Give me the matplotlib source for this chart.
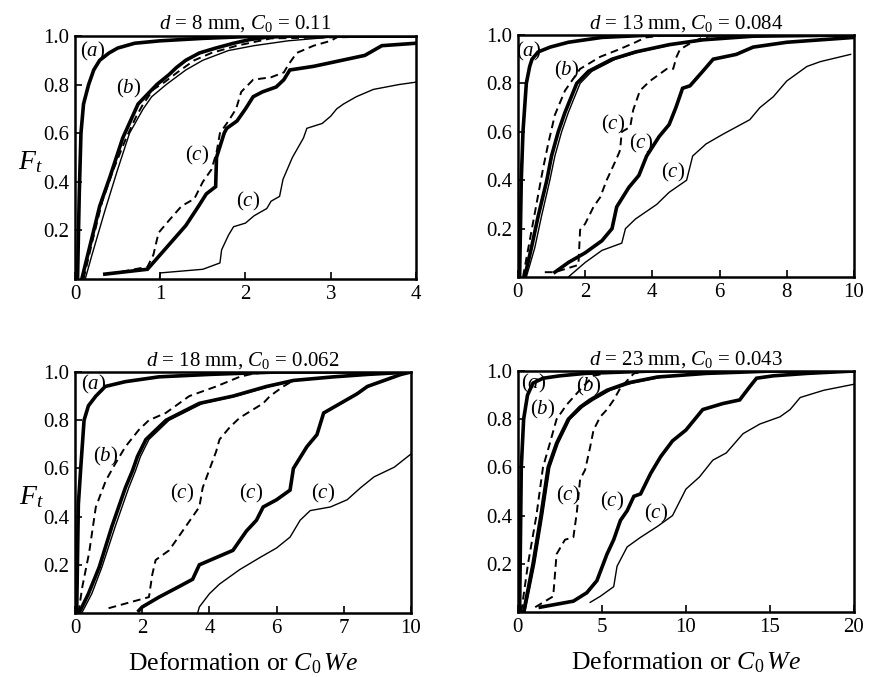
import matplotlib
matplotlib.use("Agg")
import matplotlib.pyplot as plt

plt.rcParams['font.family'] = ['Liberation Serif', 'DejaVu Serif']
plt.rcParams['mathtext.fontset'] = 'custom'
plt.rcParams['mathtext.rm'] = 'Liberation Serif'
plt.rcParams['mathtext.it'] = 'Liberation Serif:italic'

# ---------------- Panel 1: d = 8 mm ----------------
p1_a_x = [0.03, 0.05, 0.07, 0.1, 0.16, 0.22, 0.29, 0.4, 0.5, 0.7, 1.0, 1.5, 2.2, 4.0]
p1_a_y = [0, 0.35, 0.6, 0.72, 0.8, 0.86, 0.9, 0.93, 0.95, 0.97, 0.98, 0.99, 1.0, 1.0]
p1_b_thick_x = [0.08, 0.15, 0.29, 0.41, 0.56, 0.65, 0.74, 0.85, 0.96, 1.1, 1.19, 1.3, 1.46, 1.65, 1.86, 2.05, 2.25, 2.6, 4.0]
p1_b_thick_y = [0, 0.1, 0.3, 0.42, 0.58, 0.65, 0.72, 0.76, 0.8, 0.84, 0.87, 0.9, 0.93, 0.95, 0.97, 0.985, 0.995, 1.0, 1.0]
p1_b_thin_x = [0.12, 0.2, 0.35, 0.5, 0.64, 0.8, 0.9, 1.07, 1.3, 1.5, 1.8, 2.1, 2.5, 3.0, 4.0]
p1_b_thin_y = [0, 0.1, 0.28, 0.45, 0.6, 0.7, 0.75, 0.8, 0.86, 0.9, 0.94, 0.96, 0.98, 0.995, 1.0]
p1_b_dash_x = [0.1, 0.2, 0.32, 0.45, 0.6, 0.72, 0.8, 0.92, 1.05, 1.2, 1.4, 1.6, 1.9, 2.3, 4.0]
p1_b_dash_y = [0, 0.15, 0.32, 0.45, 0.58, 0.67, 0.72, 0.78, 0.81, 0.85, 0.9, 0.93, 0.96, 0.99, 1.0]
p1_c_dash_x = [0.4, 0.85, 0.92, 0.98, 1.1, 1.25, 1.4, 1.5, 1.6, 1.66, 1.7, 1.8, 1.89, 1.95, 2.09, 2.3, 2.45, 2.5, 2.6, 2.8, 3.0, 3.1]
p1_c_dash_y = [0.02, 0.05, 0.1, 0.19, 0.24, 0.3, 0.33, 0.4, 0.45, 0.52, 0.6, 0.65, 0.7, 0.77, 0.82, 0.83, 0.85, 0.88, 0.93, 0.96, 0.98, 1.0]
p1_c_thick_x = [0.35, 0.85, 0.95, 1.0, 1.1, 1.3, 1.45, 1.54, 1.65, 1.66, 1.75, 1.78, 1.9, 2.0, 2.09, 2.2, 2.36, 2.45, 2.52, 2.8, 3.0, 3.4, 3.5, 3.6, 3.8, 4.0]
p1_c_thick_y = [0.02, 0.04, 0.08, 0.1, 0.14, 0.22, 0.3, 0.35, 0.38, 0.5, 0.6, 0.62, 0.65, 0.7, 0.75, 0.77, 0.79, 0.82, 0.86, 0.875, 0.89, 0.92, 0.94, 0.96, 0.965, 0.97]
p1_c_thin_x = [0.99, 1.0, 1.5, 1.7, 1.72, 1.8, 1.86, 2.0, 2.1, 2.25, 2.3, 2.4, 2.44, 2.55, 2.68, 2.72, 2.9, 3.0, 3.07, 3.15, 3.3, 3.5, 3.8, 4.0]
p1_c_thin_y = [0.0, 0.025, 0.04, 0.066, 0.12, 0.18, 0.215, 0.23, 0.26, 0.29, 0.32, 0.34, 0.41, 0.5, 0.58, 0.62, 0.64, 0.67, 0.7, 0.72, 0.75, 0.78, 0.8, 0.81]

# ---------------- Panel 2: d = 13 mm ----------------
p2_a_x = [0.05, 0.1, 0.15, 0.25, 0.35, 0.42, 0.6, 0.96, 1.5, 2.5, 4.0, 10.0]
p2_a_y = [0, 0.4, 0.6, 0.8, 0.87, 0.9, 0.93, 0.95, 0.97, 0.99, 1.0, 1.0]
p2_b_thick_x = [0.2, 0.4, 0.6, 0.86, 1.0, 1.2, 1.4, 1.75, 2.1, 2.8, 3.5, 4.5, 5.5, 7.0, 10.0]
p2_b_thick_y = [0, 0.12, 0.25, 0.4, 0.5, 0.6, 0.68, 0.8, 0.85, 0.9, 0.93, 0.96, 0.98, 0.995, 1.0]
p2_b_thin_x = [0.25, 0.5, 0.7, 0.95, 1.1, 1.3, 1.5, 1.85, 2.2, 2.9, 3.6, 4.6, 5.6, 7.0, 10.0]
p2_b_thin_y = [0, 0.12, 0.25, 0.4, 0.5, 0.6, 0.68, 0.8, 0.85, 0.9, 0.93, 0.96, 0.98, 0.995, 1.0]
p2_b_dash_x = [0.15, 0.35, 0.55, 0.75, 0.9, 1.1, 1.4, 1.85, 2.45, 3.0, 3.5, 3.8, 4.5, 10.0]
p2_b_dash_y = [0, 0.15, 0.3, 0.45, 0.55, 0.67, 0.77, 0.86, 0.91, 0.94, 0.97, 0.99, 1.0, 1.0]
p2_c_dash_x = [0.8, 1.1, 1.8, 1.85, 2.0, 2.25, 2.45, 2.64, 2.84, 3.0, 3.04, 3.09, 3.34, 3.43, 3.63, 3.93, 4.43, 4.62, 4.72, 4.82, 5.12, 5.5, 6.0]
p2_c_dash_y = [0.02, 0.02, 0.05, 0.195, 0.22, 0.29, 0.33, 0.40, 0.46, 0.51, 0.525, 0.6, 0.62, 0.69, 0.77, 0.81, 0.86, 0.86, 0.91, 0.94, 0.965, 0.99, 1.0]
p2_c_thick_x = [1.1, 1.5, 2.0, 2.5, 2.8, 2.94, 3.3, 3.6, 3.83, 4.2, 4.5, 4.7, 4.9, 5.12, 5.5, 5.81, 6.5, 7.0, 8.0, 10.0]
p2_c_thick_y = [0.02, 0.06, 0.1, 0.15, 0.2, 0.29, 0.37, 0.42, 0.5, 0.58, 0.63, 0.7, 0.78, 0.79, 0.85, 0.9, 0.92, 0.95, 0.97, 0.99]
p2_c_thin_x = [1.5, 2.0, 2.5, 3.09, 3.2, 3.5, 4.13, 4.5, 5.02, 5.2, 5.6, 6.1, 6.9, 7.2, 7.6, 8.0, 8.6, 9.0, 9.9]
p2_c_thin_y = [0.0, 0.06, 0.11, 0.14, 0.2, 0.24, 0.30, 0.35, 0.40, 0.5, 0.55, 0.59, 0.65, 0.70, 0.745, 0.81, 0.87, 0.89, 0.92]

# ---------------- Panel 3: d = 18 mm ----------------
p3_a_x = [0.05, 0.1, 0.17, 0.27, 0.4, 0.62, 0.9, 1.5, 2.5, 4.0, 6.0, 10.0]
p3_a_y = [0, 0.45, 0.6, 0.8, 0.86, 0.9, 0.94, 0.96, 0.98, 0.99, 1.0, 1.0]
p3_b_thick_x = [0.12, 0.4, 0.72, 1.1, 1.5, 1.71, 1.86, 2.11, 2.71, 3.7, 4.7, 5.7, 6.5, 7.7, 8.7, 10.0]
p3_b_thick_y = [0, 0.08, 0.19, 0.36, 0.52, 0.59, 0.65, 0.72, 0.80, 0.87, 0.90, 0.94, 0.965, 0.98, 0.99, 1.0]
p3_b_thin_x = [0.2, 0.5, 0.8, 1.2, 1.6, 1.8, 1.95, 2.2, 2.8, 3.8, 4.8, 5.8, 6.6, 7.8, 8.8, 10.0]
p3_b_thin_y = [0, 0.08, 0.19, 0.36, 0.52, 0.59, 0.65, 0.72, 0.80, 0.87, 0.90, 0.94, 0.965, 0.98, 0.99, 1.0]
p3_b_dash_x = [0.1, 0.22, 0.42, 0.62, 0.92, 1.2, 1.5, 1.9, 2.2, 2.7, 3.4, 4.2, 4.9, 5.2, 5.7, 10.0]
p3_b_dash_y = [0, 0.11, 0.25, 0.44, 0.55, 0.62, 0.69, 0.76, 0.80, 0.83, 0.90, 0.94, 0.98, 0.99, 1.0, 1.0]
p3_c_dash_x = [1.0, 2.2, 2.3, 2.4, 2.8, 3.0, 3.3, 3.7, 3.8, 4.2, 4.3, 4.6, 4.9, 5.6, 5.8, 6.2, 6.5]
p3_c_dash_y = [0.02, 0.066, 0.16, 0.22, 0.26, 0.30, 0.36, 0.44, 0.52, 0.67, 0.72, 0.77, 0.81, 0.87, 0.90, 0.94, 0.965]
p3_c_thick_x = [1.9, 2.0, 2.5, 3.1, 3.5, 3.7, 4.2, 4.7, 5.1, 5.4, 5.6, 6.0, 6.4, 6.5, 6.9, 7.2, 7.4, 7.9, 8.4, 8.7, 9.2, 9.7, 10.0]
p3_c_thick_y = [0.01, 0.025, 0.066, 0.11, 0.14, 0.2, 0.23, 0.26, 0.34, 0.385, 0.44, 0.47, 0.51, 0.6, 0.69, 0.74, 0.83, 0.87, 0.91, 0.94, 0.965, 0.99, 1.0]
p3_c_thin_x = [3.65, 3.7, 4.0, 4.3, 4.9, 5.5, 6.0, 6.4, 6.7, 7.0, 7.6, 8.1, 8.5, 8.9, 9.5, 10.0]
p3_c_thin_y = [0.0, 0.025, 0.08, 0.12, 0.18, 0.23, 0.27, 0.315, 0.385, 0.425, 0.44, 0.47, 0.52, 0.565, 0.605, 0.66]

# ---------------- Panel 4: d = 23 mm ----------------
p4_a_x = [0.1, 0.2, 0.34, 0.57, 0.9, 1.5, 2.5, 4.0, 8.0, 20.0]
p4_a_y = [0, 0.6, 0.8, 0.9, 0.95, 0.97, 0.98, 0.99, 1.0, 1.0]
p4_b_thick_x = [0.34, 0.9, 1.37, 1.8, 2.3, 3.0, 3.7, 4.3, 5.3, 6.5, 8.3, 11.2, 15.2, 20.0]
p4_b_thick_y = [0, 0.2, 0.4, 0.6, 0.7, 0.8, 0.85, 0.88, 0.92, 0.95, 0.975, 0.99, 1.0, 1.0]
p4_b_thin_x = [0.42, 1.0, 1.47, 1.9, 2.4, 3.1, 3.85, 4.5, 5.5, 6.8, 8.6, 11.5, 15.5, 20.0]
p4_b_thin_y = [0, 0.2, 0.4, 0.6, 0.7, 0.8, 0.85, 0.88, 0.92, 0.95, 0.975, 0.99, 1.0, 1.0]
p4_b_dash_x = [0.2, 0.6, 1.1, 1.49, 1.9, 2.3, 2.9, 3.8, 4.5, 5.5, 8.0]
p4_b_dash_y = [0, 0.2, 0.4, 0.6, 0.7, 0.8, 0.86, 0.93, 0.98, 0.995, 1.0]
p4_c_dash_x = [1.03, 2.1, 2.3, 2.8, 3.3, 3.5, 3.7, 4.0, 4.3, 4.5, 4.9, 5.3, 5.7, 6.1, 6.5, 6.9, 8.0]
p4_c_dash_y = [0.02, 0.065, 0.24, 0.3, 0.31, 0.41, 0.55, 0.59, 0.685, 0.755, 0.81, 0.84, 0.88, 0.93, 0.96, 0.99, 1.0]
p4_c_thick_x = [1.33, 3.3, 4.1, 4.7, 5.3, 5.7, 6.1, 6.5, 6.9, 7.3, 7.9, 8.5, 9.2, 10.0, 11.0, 12.2, 13.2, 13.8, 14.2, 15.2, 17.2, 20.0]
p4_c_thick_y = [0.02, 0.045, 0.08, 0.13, 0.24, 0.3, 0.38, 0.42, 0.48, 0.49, 0.575, 0.645, 0.71, 0.755, 0.84, 0.865, 0.88, 0.935, 0.97, 0.98, 0.99, 1.0]
p4_c_thin_x = [4.3, 4.9, 5.7, 5.9, 6.5, 7.3, 8.3, 9.2, 10.0, 10.8, 11.6, 12.4, 13.4, 14.4, 15.6, 16.2, 16.8, 18.2, 20.0]
p4_c_thin_y = [0.04, 0.065, 0.105, 0.19, 0.27, 0.31, 0.355, 0.40, 0.51, 0.56, 0.63, 0.66, 0.74, 0.78, 0.81, 0.84, 0.89, 0.92, 0.945]

# titles, ticks, curve labels
titles = [r'$d$ = 8 mm, $C_0$ = 0.11', r'$d$ = 13 mm, $C_0$ = 0.084',
          r'$d$ = 18 mm, $C_0$ = 0.062', r'$d$ = 23 mm, $C_0$ = 0.043']
xmaxes = [4, 10, 10, 20]
xtick_vals = [[0, 1, 2, 3, 4], [0, 2, 4, 6, 8, 10], [0, 2, 4, 6, 8, 10], [0, 5, 10, 15, 20]]
xtick_labels = [['0', '1', '2', '3', '4'], ['0', '2', '4', '6', '8', '10'],
                ['0', '2', '4', '6', '7', '10'], ['0', '5', '10', '15', '20']]
ytick_vals = [0.2, 0.4, 0.6, 0.8, 1.0]
ytick_labels = ['0.2', '0.4', '0.6', '0.8', '1.0']

p1_labels = [('a', 0.21, 0.935), ('b', 0.63, 0.785), ('c', 1.43, 0.51), ('c', 2.03, 0.32)]
p2_labels = [('a', 0.32, 0.93), ('b', 1.46, 0.855), ('c', 2.84, 0.63), ('c', 3.68, 0.55), ('c', 4.62, 0.43)]
p3_labels = [('a', 0.57, 0.95), ('b', 0.92, 0.65), ('c', 3.19, 0.495), ('c', 5.25, 0.495), ('c', 7.37, 0.495)]
p4_labels = [('a', 0.93, 0.95), ('b', 1.5, 0.84), ('b', 4.2, 0.935), ('c', 3.0, 0.485), ('c', 5.6, 0.46), ('c', 8.2, 0.41)]

THICK = dict(color='black', lw=2.6, ls='-', solid_joinstyle='miter')
THIN = dict(color='black', lw=1.0, ls='-')
DASH = dict(color='black', lw=1.4, ls=(0, (4, 2.5)))

panels = [
    [(p1_a_x, p1_a_y, THICK), (p1_b_dash_x, p1_b_dash_y, DASH), (p1_b_thin_x, p1_b_thin_y, THIN),
     (p1_b_thick_x, p1_b_thick_y, THICK), (p1_c_dash_x, p1_c_dash_y, DASH),
     (p1_c_thick_x, p1_c_thick_y, THICK), (p1_c_thin_x, p1_c_thin_y, THIN)],
    [(p2_a_x, p2_a_y, THICK), (p2_b_dash_x, p2_b_dash_y, DASH), (p2_b_thin_x, p2_b_thin_y, THIN),
     (p2_b_thick_x, p2_b_thick_y, THICK), (p2_c_dash_x, p2_c_dash_y, DASH),
     (p2_c_thick_x, p2_c_thick_y, THICK), (p2_c_thin_x, p2_c_thin_y, THIN)],
    [(p3_a_x, p3_a_y, THICK), (p3_b_dash_x, p3_b_dash_y, DASH), (p3_b_thin_x, p3_b_thin_y, THIN),
     (p3_b_thick_x, p3_b_thick_y, THICK), (p3_c_dash_x, p3_c_dash_y, DASH),
     (p3_c_thick_x, p3_c_thick_y, THICK), (p3_c_thin_x, p3_c_thin_y, THIN)],
    [(p4_a_x, p4_a_y, THICK), (p4_b_dash_x, p4_b_dash_y, DASH), (p4_b_thin_x, p4_b_thin_y, THIN),
     (p4_b_thick_x, p4_b_thick_y, THICK), (p4_c_dash_x, p4_c_dash_y, DASH),
     (p4_c_thick_x, p4_c_thick_y, THICK), (p4_c_thin_x, p4_c_thin_y, THIN)],
]
all_labels = [p1_labels, p2_labels, p3_labels, p4_labels]

positions = [
    [0.0863, 0.5879, 0.3924, 0.3590],
    [0.5960, 0.5908, 0.3867, 0.3575],
    [0.0863, 0.0945, 0.3867, 0.3560],
    [0.5960, 0.0960, 0.3867, 0.3560],
]

fig = plt.figure(figsize=(8.69, 6.77), dpi=100)
for i in range(4):
    ax = fig.add_axes(positions[i])
    for xs, ys, st in panels[i]:
        ax.plot(xs, ys, **st)
    for lab, lx, ly in all_labels[i]:
        ax.text(lx, ly, '($' + lab + '$)', fontsize=15, ha='center', va='center')
    ax.set_xlim(0, xmaxes[i])
    ax.set_ylim(0, 1.0)
    ax.set_xticks(xtick_vals[i])
    ax.set_xticklabels(xtick_labels[i])
    ax.set_yticks(ytick_vals)
    ax.set_yticklabels(ytick_labels)
    ax.tick_params(direction='in', length=5, width=1.2, labelsize=15, pad=4)
    for sp in ax.spines.values():
        sp.set_linewidth(1.8)
    ax.set_title(titles[i], fontsize=15, pad=5)
    if i % 2 == 0:
        ax.set_ylabel(r'$F_t$', fontsize=20, rotation=0, labelpad=12, va='center')
        ax.yaxis.set_label_coords(-0.13, 0.48)
    if i >= 2:
        ax.set_xlabel(r'Deformation or $C_0\,We$', fontsize=18.5, labelpad=9)

fig.savefig('out.png', dpi=100)
